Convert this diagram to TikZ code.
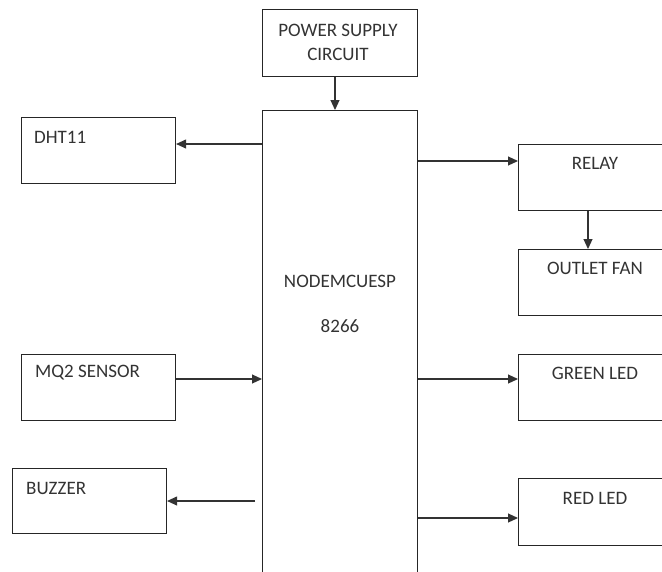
\documentclass[tikz,border=0pt]{standalone}
\usepackage{fontspec}
\setmainfont{Carlito}
\usetikzlibrary{arrows.meta}
\begin{document}
\begin{tikzpicture}[x=1pt,y=-1pt,
  box/.style={draw=black!85, line width=1.1pt, anchor=north west, inner sep=0pt},
  lbl/.style={font=\fontsize{19}{21}\selectfont, text=black!80, inner sep=0pt},
  arr/.style={draw=black!80, line width=1.1pt, -{Triangle[length=10pt,width=9pt]}}]
\useasboundingbox (0,0) rectangle (662,571);
\clip (0,0) rectangle (662,571);
% boxes
\node[box, minimum width=155pt, minimum height=67pt] (ps) at (262,9) {};
\node[box, minimum width=155pt, minimum height=520pt] (mcu) at (262,110) {};
\node[box, minimum width=154pt, minimum height=66pt] (dht) at (21,117) {};
\node[box, minimum width=154pt, minimum height=66pt] (mq) at (21,354) {};
\node[box, minimum width=154pt, minimum height=65pt] (bz) at (12,468) {};
\node[box, minimum width=200pt, minimum height=66pt] (relay) at (518,144) {};
\node[box, minimum width=200pt, minimum height=66pt] (fan) at (518,249) {};
\node[box, minimum width=200pt, minimum height=66pt] (green) at (518,354) {};
\node[box, minimum width=200pt, minimum height=67pt] (red) at (518,478) {};
% labels
\node[lbl] (t1) at (338,30) {POWER SUPPLY};
\node[lbl] (t2) at (338,54) {CIRCUIT};
\node[lbl] (t3) at (340,281) {NODEMCUESP};
\node[lbl] (t4) at (340,326) {8266};
\node[lbl, anchor=west] (t5) at (34,137) {DHT11};
\node[lbl, anchor=west] (t6) at (35,373) {MQ2 SENSOR};
\node[lbl, anchor=west] (t7) at (26,488) {BUZZER};
\node[lbl] (t8) at (595,163) {RELAY};
\node[lbl] (t9) at (595,268) {OUTLET FAN};
\node[lbl] (t10) at (595,373) {GREEN LED};
\node[lbl] (t11) at (595,498) {RED LED};
% connectors
\coordinate (bzs) at (255,501);
\draw[arr] (ps.south -| 335,0) -- (mcu.north -| 335,0);
\draw[arr] (mcu.west |- 0,144) -- (dht.east |- 0,144);
\draw[arr] (mq.east |- 0,379) -- (mcu.west |- 0,379);
\draw[arr] (bzs) -- (bz.east |- bzs);
\draw[arr] (mcu.east |- 0,161) -- (relay.west |- 0,161);
\draw[arr] (relay.south -| 588,0) -- (fan.north -| 588,0);
\draw[arr] (mcu.east |- 0,379) -- (green.west |- 0,379);
\draw[arr] (mcu.east |- 0,518) -- (red.west |- 0,518);
\end{tikzpicture}
\end{document}
